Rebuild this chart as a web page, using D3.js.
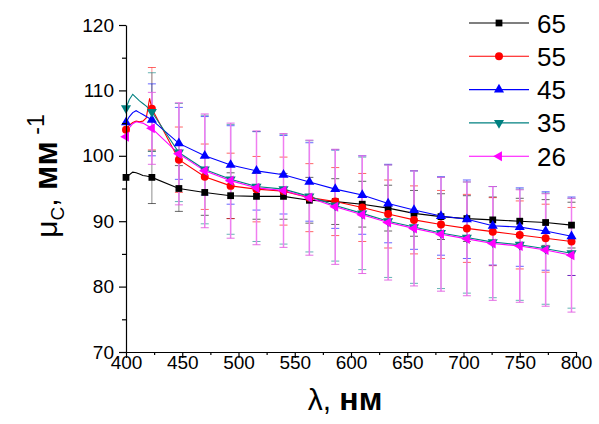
<!DOCTYPE html>
<html>
<head>
<meta charset="utf-8">
<script src="https://cdn.jsdelivr.net/npm/d3@7"></script>
<style>
  body { margin: 0; background: #fff; }
  svg { display: block; font-family: Arial, "Liberation Sans", sans-serif; }
</style>
</head>
<body>
<svg id="chart" width="599" height="424"></svg>
<script>
// wavelengths where markers / error bars sit
const lambdaMarks = [400, 423, 447, 470, 493, 516, 540, 563, 586, 610, 633, 656, 680, 703, 726, 750, 773, 796];
// fine points of the spectra between 400 and 423 nm (the small peak)
const lambdaLead = [400, 403, 406, 409, 412, 415, 418, 421, 423];

const seriesNames = ["65", "55", "45", "35", "26"];

const vals65 = [96.7, 96.7, 95.0, 94.4, 93.9, 93.8, 93.8, 93.2, 93.0, 92.6, 92.0, 91.2, 90.7, 90.4, 90.2, 90.0, 89.8, 89.4];
const vals55 = [104.0, 107.2, 99.4, 96.8, 95.4, 94.9, 94.6, 93.6, 93.0, 92.1, 91.1, 90.2, 89.5, 88.9, 88.4, 87.9, 87.4, 86.9];
const vals45 = [105.1, 105.5, 101.9, 100.0, 98.6, 97.7, 97.1, 96.0, 94.9, 94.0, 92.7, 91.7, 90.8, 90.3, 89.3, 89.1, 88.5, 87.7];
const vals35 = [107.3, 106.7, 100.5, 97.9, 96.4, 95.3, 94.9, 93.8, 92.4, 91.2, 90.0, 89.1, 88.2, 87.5, 86.8, 86.4, 85.8, 85.1];
const vals26 = [102.9, 104.2, 100.3, 97.7, 96.2, 95.1, 94.7, 93.6, 92.2, 91.0, 89.8, 88.9, 88.0, 87.3, 86.6, 86.2, 85.6, 84.8];

const lead65 = [96.7, 97.1, 97.5, 97.4, 97.2, 97.0, 96.9, 96.8, 96.7];
const lead55 = [104.0, 104.7, 105.1, 105.3, 105.2, 105.3, 105.8, 108.8, 107.2];
const lead45 = [105.1, 106.0, 106.6, 106.9, 106.6, 106.3, 106.0, 105.7, 105.5];
const lead35 = [107.3, 108.6, 109.4, 108.9, 108.4, 108.0, 107.6, 107.1, 106.7];
const lead26 = [102.9, 104.3, 104.9, 105.2, 105.1, 105.0, 104.7, 104.4, 104.2];

const err65 = [0, 4.0, 3.5, 3.5, 3.5, 3.5, 3.5, 3.5, 3.5, 3.5, 3.5, 3.5, 3.5, 3.5, 3.5, 3.5, 3.5, 3.5];
const err55 = [0, 6.3, 5.0, 5.0, 5.0, 5.0, 5.2, 5.2, 5.2, 5.2, 5.2, 5.2, 5.2, 5.2, 5.2, 5.2, 5.2, 5.2];
const err45 = [0, 5.5, 5.5, 6.0, 6.0, 6.0, 6.0, 6.0, 6.0, 6.0, 6.0, 6.0, 6.0, 6.0, 6.0, 6.0, 6.0, 6.0];
const err35 = [0, 6.0, 7.5, 8.3, 8.4, 8.4, 8.4, 8.5, 8.5, 8.6, 8.6, 8.6, 8.5, 8.5, 8.5, 8.5, 8.5, 8.4];
const err26 = [0, 5.5, 7.8, 8.7, 8.8, 8.7, 8.7, 8.8, 8.8, 9.0, 8.8, 8.8, 8.7, 8.7, 8.7, 8.6, 8.6, 8.7];

const xTicks = [400, 450, 500, 550, 600, 650, 700, 750, 800];
const yTicks = [70, 80, 90, 100, 110, 120];

const colors = ["#000000", "#ff0000", "#0000ff", "#008080", "#ff00ff"];
const shapes = ["square", "circle", "up", "down", "left"];

const series = seriesNames.map((name, i) => ({
  name,
  color: colors[i],
  shape: shapes[i],
  vals: [vals65, vals55, vals45, vals35, vals26][i],
  lead: [lead65, lead55, lead45, lead35, lead26][i],
  err: [err65, err55, err45, err35, err26][i]
}));

const svg = d3.select("#chart");
const margin = {left: 126, right: 23, top: 25, bottom: 72};
const W = 599, H = 424;

const x = d3.scaleLinear().domain([400, 800]).range([margin.left, W - margin.right]);
const y = d3.scaleLinear().domain([70, 120]).range([H - margin.bottom, margin.top]);

function symbolPath(shape) {
  if (shape === "square") return d3.symbol(d3.symbolSquare, 46)();
  if (shape === "circle") return d3.symbol(d3.symbolCircle, 50)();
  return d3.symbol(d3.symbolTriangle, 44)();
}
function symbolRot(shape) {
  if (shape === "down") return 180;
  if (shape === "left") return -90;
  return 0;
}

// error bars: caps of all series, the pink 26 bar drawn on top
const errG = svg.append("g");
series.forEach(s => {
  const isTop = s.shape === "left";
  const g = errG.append("g").attr("stroke-width", 1);
  lambdaMarks.forEach((l, i) => {
    const e = s.err[i];
    if (!e) return;
    const cx = x(l), y1 = y(s.vals[i] + e), y2 = y(s.vals[i] - e);
    g.append("line").attr("x1", cx).attr("x2", cx).attr("y1", y1).attr("y2", y2)
      .attr("stroke", isTop ? "#f07ef0" : s.color)
      .attr("stroke-opacity", isTop ? 1 : 0.45)
      .attr("stroke-width", isTop ? 1.5 : 1);
    [y1, y2].forEach(yy => g.append("line")
      .attr("x1", cx - 4).attr("x2", cx + 4).attr("y1", yy).attr("y2", yy)
      .attr("stroke", isTop ? "#e060e0" : s.color)
      .attr("stroke-opacity", isTop ? 0.9 : 0.6));
  });
});

// lines
const line = d3.line().x(d => x(d[0])).y(d => y(d[1]));
series.forEach(s => {
  const pts = lambdaLead.map((l, i) => [l, s.lead[i]])
    .concat(lambdaMarks.slice(2).map((l, i) => [l, s.vals[i + 2]]));
  svg.append("path")
    .datum(pts)
    .attr("fill", "none")
    .attr("stroke", s.color)
    .attr("stroke-width", 1.1)
    .attr("d", line);
});

// markers
series.forEach(s => {
  svg.append("g").selectAll("path")
    .data(lambdaMarks.map((l, i) => [l, s.vals[i]]))
    .join("path")
    .attr("d", symbolPath(s.shape))
    .attr("transform", d => `translate(${x(d[0])},${y(d[1])}) rotate(${symbolRot(s.shape)})`)
    .attr("fill", s.color);
});

// axes
const fontSize = 19;
svg.append("g").attr("transform", `translate(0,${y(70)})`)
  .call(d3.axisBottom(x).tickValues(xTicks).tickSize(6).tickSizeOuter(0).tickPadding(-2).tickFormat(d3.format("d")));
svg.append("g").attr("transform", `translate(0,${y(70)})`)
  .call(d3.axisBottom(x).tickValues(d3.range(425, 800, 50)).tickSize(3).tickSizeOuter(0).tickFormat(""))
  .select(".domain").remove();
svg.append("g").attr("transform", `translate(${x(400)},0)`)
  .call(d3.axisLeft(y).tickValues(yTicks).tickSize(7).tickSizeOuter(0).tickPadding(5));
svg.append("g").attr("transform", `translate(${x(400)},0)`)
  .call(d3.axisLeft(y).tickValues(d3.range(75, 120, 10)).tickSize(4).tickSizeOuter(0).tickFormat(""))
  .select(".domain").remove();

svg.selectAll(".tick text").attr("font-size", fontSize).attr("font-family", "Arial, 'Liberation Sans', sans-serif").attr("fill", "#000");
svg.selectAll(".tick line, .domain").attr("stroke", "#000").attr("stroke-width", 1.2);

// axis titles
const xt = svg.append("text")
  .attr("x", 345).attr("y", 410)
  .attr("text-anchor", "middle")
  .attr("font-size", 30);
xt.append("tspan").text("λ, ");
xt.append("tspan").attr("font-weight", "bold").attr("font-size", 32).text("нм");

const yt = svg.append("text")
  .attr("transform", "translate(57,176) rotate(-90)")
  .attr("text-anchor", "middle")
  .attr("font-size", 30);
yt.append("tspan").text("μ");
yt.append("tspan").attr("font-size", 19).attr("dy", 7).text("C");
yt.append("tspan").attr("dy", -7).text(", ");
yt.append("tspan").attr("font-weight", "bold").attr("font-size", 33).text("мм");
yt.append("tspan").attr("font-size", 23).attr("dy", -13).text(" -1");

// legend
const legend = svg.append("g");
series.forEach((s, i) => {
  const cy = 23 + i * 33.3;
  legend.append("line")
    .attr("x1", 469).attr("x2", 529).attr("y1", cy).attr("y2", cy)
    .attr("stroke", s.color).attr("stroke-width", 1.1);
  legend.append("path")
    .attr("d", symbolPath(s.shape))
    .attr("transform", `translate(499,${cy}) rotate(${symbolRot(s.shape)})`)
    .attr("fill", s.color);
  legend.append("text")
    .attr("x", 537).attr("y", cy + 9.5)
    .attr("font-size", 26)
    .text(s.name);
});
</script>
</body>
</html>
